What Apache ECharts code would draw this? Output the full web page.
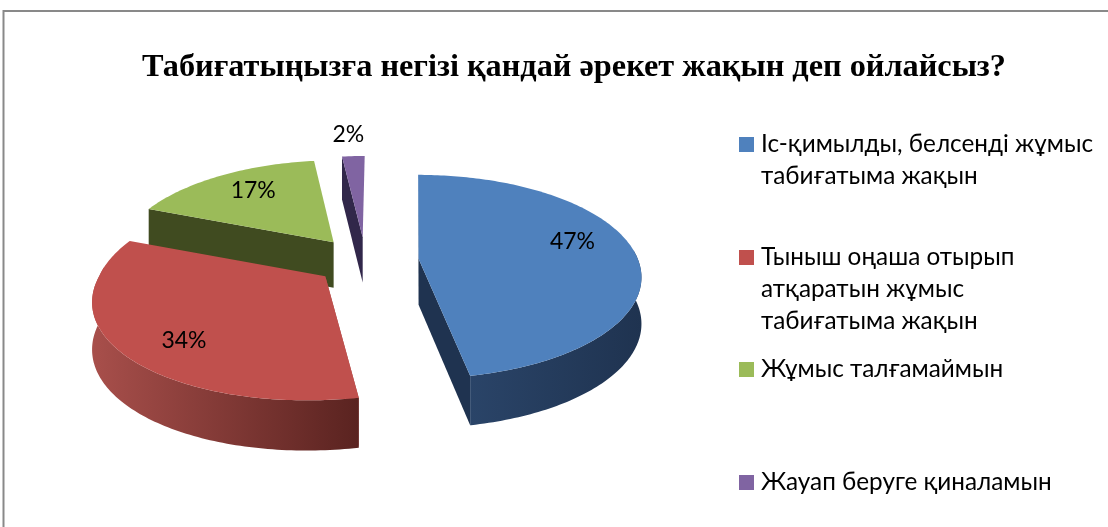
<!DOCTYPE html>
<html>
<head>
<meta charset="utf-8">
<title>Chart</title>
<style>
  html, body { margin: 0; padding: 0; background: #fff; }
  #chart { width: 1108px; height: 527px; }
</style>
<script src="https://cdn.jsdelivr.net/npm/echarts@6/dist/echarts.min.js"></script>
</head>
<body>
<div id="chart"></div>
<script>
const titleText = "Табиғатыңызға негізі қандай әрекет жақын деп ойлайсыз?";
const categories = [
  "Іс-қимылды, белсенді жұмыс\nтабиғатыма жақын",
  "Тыныш оңаша отырып\nатқаратын жұмыс\nтабиғатыма жақын",
  "Жұмыс талғамаймын",
  "Жауап беруге қиналамын",
];
const values = [47, 34, 17, 2];

// office palette: top face, then the two ends of the side wall
const topColors = ["#4f81bd", "#c0504d", "#9bbb59", "#8064a2"];
const wallColors = [
  ["#2a4468", "#1f3350"],
  ["#a84f4b", "#5a2320"],
  ["#404b20", "#404b20"],
  ["#31274a", "#31274a"],
];

// fake 3d pie: centre, radii, perspective, explode distance
const CX = 366;
const CY = 261;
const RX = 220;
const RY = 99;
const PERSP = 0.176;
const VX = 409;
const EXPLODE = 0.24;
// label placement as [radius, extra x, extra y], relative to the slice apex
const labelSpots = [[0.7, 3, -11], [0.72, 3, 14], [0.68, -1, -4], [1.25, -3, -5]];
const legendY = [144.5, 257.5, 369.5, 482.5];
const LINE_H = 32;
// 15px square inside a 17px box, pushes the text 2px further from the marker
const LEGEND_ICON = "path://M0 0H15V15H0Z M17 15L17 15Z";

const total = values.reduce((a, b) => a + b, 0);
const rad = (d) => (d * Math.PI) / 180;

function sliceAngles(i) {
  const before = values.slice(0, i).reduce((a, b) => a + b, 0);
  return [(before / total) * 360, ((before + values[i]) / total) * 360];
}

function midOf(i) {
  const [a0, a1] = sliceAngles(i);
  return (a0 + a1) / 2;
}

function apexOf(i) {
  const mid = rad(midOf(i));
  return [CX + EXPLODE * Math.sin(mid) * RX, CY - EXPLODE * Math.cos(mid) * RY];
}

function project(i, deg, r) {
  const apex = apexOf(i);
  const u = Math.sin(rad(deg));
  const v = Math.cos(rad(deg));
  // depth counts the explode offset too, nearer slices come out bigger
  const depth = EXPLODE * Math.cos(rad(midOf(i)));
  const s = 1 / (1 + PERSP * (v * r + depth));
  const rel = s * (1 + PERSP * depth);
  const lean = rel < 1 ? 0.3 : 1;
  return [
    apex[0] + u * r * RX * s + (apex[0] - VX) * (rel - 1) * lean,
    apex[1] - v * r * RY * s,
  ];
}

function drop(p) {
  return [p[0], p[1] + 46 + (p[1] - 260) * 0.03];
}

function wallGradient(i) {
  return new echarts.graphic.LinearGradient(0, 0, 1, 0, [
    { offset: 0, color: wallColors[i][0] },
    { offset: 1, color: wallColors[i][1] },
  ]);
}

function renderSlice(i) {
  return function () {
    const [a0, a1] = sliceAngles(i);
    const apex = apexOf(i);
    const rim = [];
    const frontRim = [];
    for (let d = a0; d < a1; d += 1) {
      rim.push(project(i, d, 1));
      if (Math.cos(rad(d)) < 0.1) frontRim.push(project(i, d, 1));
    }
    rim.push(project(i, a1, 1));
    if (Math.cos(rad(a1)) < 0.1) frontRim.push(project(i, a1, 1));

    const children = [];
    const wallFill = wallColors[i][i === 0 ? 1 : 0];
    // cut walls first, the top face paints over the hidden parts
    const cuts = i === 0 ? [rim[0], rim[rim.length - 1]] : [rim[0]];
    cuts.forEach((p) => {
      children.push({
        type: "polygon",
        shape: { points: [apex, p, drop(p), drop(apex)] },
        style: { fill: wallFill },
      });
    });
    if (frontRim.length > 1) {
      children.push({
        type: "polygon",
        shape: { points: frontRim.concat(frontRim.map(drop).reverse()) },
        style: { fill: wallGradient(i) },
      });
    }
    children.push({
      type: "polygon",
      shape: { points: [apex].concat(rim) },
      style: { fill: topColors[i] },
    });
    const spot = project(i, midOf(i), labelSpots[i][0]);
    children.push({
      type: "text",
      style: {
        x: spot[0] + labelSpots[i][1],
        y: spot[1] + labelSpots[i][2],
        text: Math.round((values[i] / total) * 100) + "%",
        fill: "#000",
        font: "23px Lato, 'Open Sans'",
        align: "center",
        verticalAlign: "middle",
      },
    });
    return { type: "group", children };
  };
}

// purple first, blue last, so nearer slices cover farther ones
const drawOrder = [3, 2, 1, 0];

const option = {
  animation: false,
  title: {
    text: titleText,
    left: 137,
    top: 47,
    textStyle: {
      fontFamily: "Liberation Serif",
      fontWeight: "bold",
      fontSize: 32.3,
      color: "#000",
    },
  },
  legend: categories.map((name, i) => {
    const lines = name.split("\n").length;
    // blank lines on top keep the marker level with the first text line
    const blank = "\n".repeat(lines - 1);
    return {
      data: [name],
      left: 739,
      top: legendY[i] - (LINE_H * (2 * lines - 1)) / 2,
      itemWidth: 17,
      itemHeight: 15,
      padding: 0,
      selectedMode: false,
      icon: LEGEND_ICON,
      formatter: (n) => blank + n,
      textStyle: {
        fontFamily: "Lato, Open Sans",
        fontSize: 24.3,
        lineHeight: LINE_H,
        color: "#000",
      },
    };
  }),
  graphic: [
    {
      type: "polyline",
      shape: { points: [[3.5, 527], [3.5, 11], [1108, 11]] },
      style: { fill: null, stroke: "#898989", lineWidth: 2 },
    },
  ],
  series: drawOrder.map((i) => ({
    type: "custom",
    name: categories[i],
    coordinateSystem: "none",
    itemStyle: { color: topColors[i] },
    data: [values[i]],
    renderItem: renderSlice(i),
  })),
};

const chart = echarts.init(document.getElementById("chart"));
chart.setOption(option);
</script>
</body>
</html>
